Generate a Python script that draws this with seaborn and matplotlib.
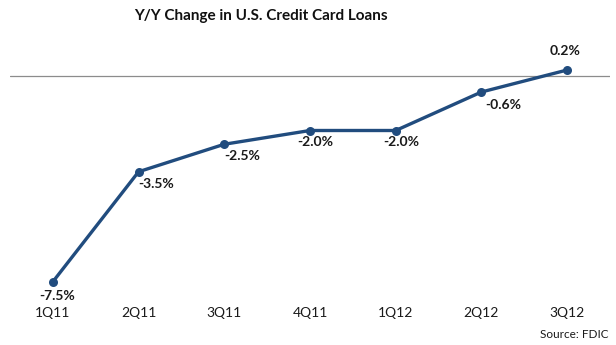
import matplotlib
matplotlib.use("Agg")
import matplotlib.pyplot as plt
import seaborn as sns
import pandas as pd

quarters = ["1Q11", "2Q11", "3Q11", "4Q11", "1Q12", "2Q12", "3Q12"]
yoy_change = [-7.5, -3.5, -2.5, -2.0, -2.0, -0.6, 0.2]
title = "Y/Y Change in U.S. Credit Card Loans"
source = "Source: FDIC"

sns.set_theme(style="white")
plt.rcParams["font.family"] = ["Lato", "DejaVu Sans"]

df = pd.DataFrame({"quarter": quarters, "change": yoy_change})

W, H = 616, 345
fig = plt.figure(figsize=(W / 100, H / 100), dpi=100)
ax = fig.add_axes([10 / W, 1 - 295.5 / H, 600 / W, 247.5 / H])

line_color = "#214C7E"
sns.lineplot(data=df, x="quarter", y="change", ax=ax, sort=False,
             color=line_color, linewidth=2.4, marker="o", markersize=6.5,
             markeredgewidth=0)

ax.axhline(0, color="#8C8C8C", linewidth=0.9, zorder=0)
ax.set_xlim(-0.5, len(quarters) - 0.5)
ax.set_ylim(-8, 1)
ax.set_yticks([])
ax.set_xlabel("")
ax.set_ylabel("")
for s in ax.spines.values():
    s.set_visible(False)
ax.tick_params(axis="x", length=0, pad=8.5, labelsize=10, labelcolor="#1a1a1a")

# label offsets in pixels (dx, dy) relative to each point
offsets = [(4, -14), (18, -12), (18, -12), (5, -11), (6, -11), (22, -13), (-2, 19)]
for i, (v, (dx, dy)) in enumerate(zip(yoy_change, offsets)):
    ax.annotate(f"{v:.1f}%", xy=(i, v), xytext=(dx * 0.72, dy * 0.72),
                textcoords="offset points", ha="center", va="center",
                fontsize=10, fontweight="bold", color="#1a1a1a")

fig.text(261 / W, 1 - 16 / H, title, ha="center", va="center",
         fontsize=11, fontweight="bold", color="#111111")
fig.text(608 / W, 1 - 335 / H, source, ha="right", va="center",
         fontsize=8.5, color="#1a1a1a")

fig.savefig("out.png", dpi=100)
